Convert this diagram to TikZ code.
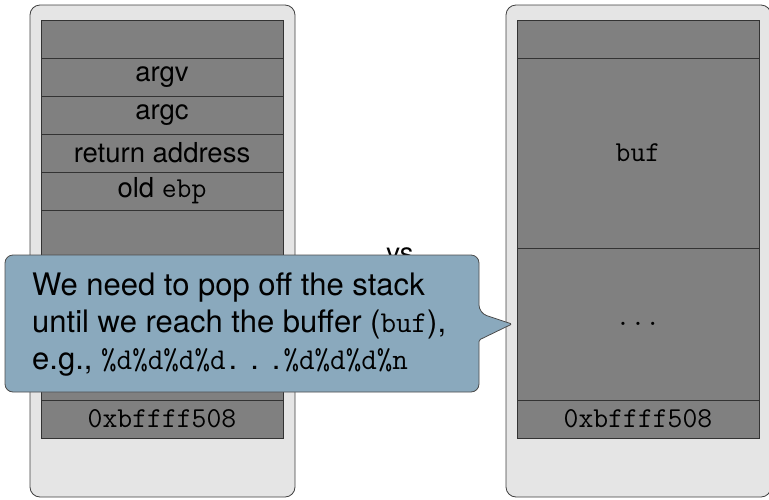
\documentclass[tikz,border=0pt]{standalone}
\usepackage{fontspec}
\setmainfont{TeX Gyre Heros}
\setmonofont{Latin Modern Mono}[Scale=0.975]
\newfontfamily\celltt{Latin Modern Mono}[Scale=1.05]
\newcommand{\ctt}[1]{{\celltt #1}}
\definecolor{outerfill}{gray}{0.9}
\definecolor{cellfill}{gray}{0.5}
\definecolor{calloutfill}{RGB}{138,169,189}
\newcommand{\spreaddots}{\kern3pt.\kern13pt.\kern13pt.\kern3pt}
\tikzset{
  outerbox/.style={draw=black!75, fill=outerfill, rounded corners=10pt, line width=0.8pt},
  cell/.style={draw=black!80, fill=cellfill, line width=0.8pt, minimum width=242pt, inner sep=0pt, outer sep=0pt,
    font=\fontsize{27.5}{33}\selectfont},
  calloutbox/.style={draw=black!70, fill=calloutfill, line width=0.8pt},
  notetext/.style={align=left, inner sep=0pt, anchor=north west, font=\fontsize{31}{36.8}\selectfont}
}
\begin{document}
\begin{tikzpicture}[x=1pt, y=-1pt]
\useasboundingbox (0,0) rectangle (769,499);
% outer panels
\draw[outerbox] (30,5) rectangle (295,497);
\draw[outerbox] (506,5) rectangle (771,497);
% left stack
\node[cell, minimum height=38pt] (l0) at (162,39) {};
\node[cell, minimum height=38pt] (l1) at (162,77) {argv};
\node[cell, minimum height=38pt] (l2) at (162,115) {argc};
\node[cell, minimum height=38pt] (l3) at (162,153) {return address};
\node[cell, minimum height=38pt] (l4) at (162,191) {old \ctt{ebp}};
\node[cell, minimum height=190pt] (l5) at (162,305) {};
\node[cell, minimum height=38pt] (l6) at (162,419) {\ctt{0xbffff508}};
% right stack
\node[cell, minimum height=38pt] (r0) at (638,39) {};
\node[cell, minimum height=190pt] (r1) at (638,153) {\ctt{buf}};
\node[cell, minimum height=152pt] (r2) at (638,324) {\ctt{...}};
\node[cell, minimum height=38pt] (r3) at (638,419) {\ctt{0xbffff508}};
% vs
\node[font=\fontsize{27.5}{33}\selectfont, anchor=base] (vs) at (400,262) {vs};
% callout
\coordinate (tip) at (512,324);
\draw[calloutbox] (5,320) [rounded corners=8pt] -- (5,255) -- (479,255) -- (479,313) [rounded corners=1.5pt] -- (tip) -- (479,340) [rounded corners=8pt] -- (479,392) -- (5,392) -- cycle;
\node[notetext] (note) at (32,273) {We need to pop off the stack\\until we reach the buffer (\texttt{buf}),\\e.g., \texttt{\%d\%d\%d\%d}\spreaddots\texttt{\%d\%d\%d\%n}};
\end{tikzpicture}
\end{document}
